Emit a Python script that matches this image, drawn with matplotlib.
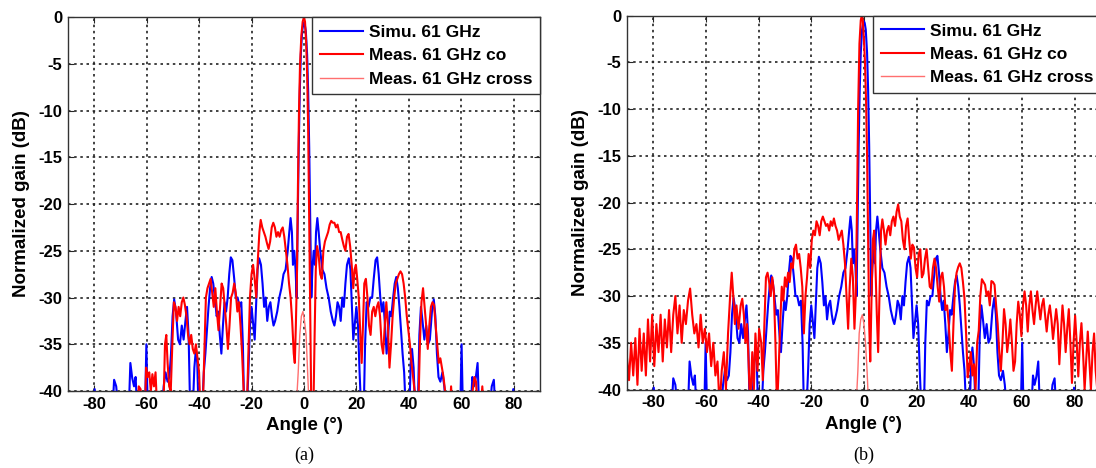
import matplotlib
matplotlib.use("Agg")
import matplotlib.pyplot as plt

plt.rcParams['font.family'] = ['Liberation Sans', 'DejaVu Sans']
plt.rcParams['axes.unicode_minus'] = False

# ===== data =====
# simulation, same curve in both panels
sim_angle = [
    -90, -80.5, -79.8, -79.2, -73, -72.4, -71.6, -70.8, -66.8, -66.2,
    -65.5, -64.8, -64.2, -63.6, -60.6, -60.1, -59.6, -54.2, -53.5, -52.8,
    -52, -51.3, -50.7, -50.1, -49.5, -48.8, -48, -47.3, -46.6, -45.9,
    -45.2, -44.6, -44, -43.4, -42.4, -41.8, -41.2, -40.7, -40.2, -38.8,
    -38.2, -37.6, -37, -36.4, -35.8, -35.2, -34.6, -34, -33.3, -32.7,
    -32.1, -31.5, -30.9, -30.3, -29.7, -29.1, -28.5, -27.9, -27.3, -26.6,
    -26, -25.3, -24.6, -23.9, -23.3, -22.8, -21.8, -21.2, -20.6, -20,
    -19.3, -18.8, -18.3, -17.7, -17.1, -16.4, -15.8, -15.2, -14.6, -14,
    -13.4, -12.8, -12.2, -11.6, -11, -10.2, -9.4, -8.6, -7.8, -7,
    -6.2, -5.6, -5.1, -4.6, -4.2, -3.7, -3.2, -2.8, -2.4, -2.0,
    -1.6, -1.2, -0.7, -0.3, 0,
    0.3, 0.7, 1.2, 1.6, 2.0, 2.4, 2.8, 3.2, 3.7, 4.2,
    4.6, 5.1, 5.6, 6.2, 7, 7.8, 8.6, 9.4, 10.2, 11,
    11.6, 12.2, 12.8, 13.4, 14, 14.6, 15.2, 15.8, 16.4, 17.1,
    17.7, 18.3, 18.8, 19.3, 20, 20.6, 21.2, 21.8, 22.8, 23.3,
    23.9, 24.6, 25.3, 26, 26.6, 27.3, 27.9, 28.5, 29.1, 29.7,
    30.3, 30.9, 31.5, 32.1, 32.7, 33.3, 34, 34.6, 35.2, 35.8,
    36.4, 37, 37.6, 38.2, 38.8, 40.2, 40.7, 41.2, 41.8, 42.4,
    43.4, 44, 44.6, 45.2, 45.9, 46.6, 47.3, 48, 48.8, 49.5,
    50.1, 50.7, 51.3, 52, 52.8, 53.5, 54.2, 59.6, 60.1, 60.6,
    63.6, 64.2, 64.8, 65.5, 66.2, 66.8, 70.8, 71.6, 72.4, 73,
    79.2, 79.8, 80.5, 90,
]
sim_gain = [
    -42, -42, -39.8, -42, -42, -38.8, -39.5, -42, -42, -37,
    -38.6, -39.5, -38.5, -42, -42, -35, -42, -42, -39.5, -38,
    -39, -38.5, -36, -32, -30.2, -31.5, -34.5, -35, -33, -34.5,
    -32.5, -31, -34, -42, -42, -37.5, -35.5, -37, -42, -42,
    -38, -36, -33.5, -31, -29, -27.8, -28.5, -30, -32, -31.5,
    -34, -36, -33, -30.5, -31.5, -30, -27.5, -25.7, -26, -28,
    -30, -30, -31, -30.5, -35, -42, -42, -38, -33, -31,
    -33, -34.5, -31, -27, -25.8, -26.5, -28.5, -31, -30, -32.5,
    -31, -30.5, -32, -33, -32.5, -31.5, -30, -29, -27.5, -27,
    -25, -23, -21.5, -23, -26.5, -25, -27, -30, -22, -14,
    -8, -4, -1.5, -0.8, -0.6,
    -0.8, -1.5, -4, -8, -14, -22, -30, -27, -25, -26.5,
    -23, -21.5, -23, -25, -27, -27.5, -29, -30, -31.5, -32.5,
    -33, -32, -30.5, -31, -32.5, -30, -31, -28.5, -26.5, -25.8,
    -27, -31, -34.5, -33, -31, -33, -38, -42, -42, -35,
    -30.5, -31, -30, -30, -28, -26, -25.7, -27.5, -30, -31.5,
    -30.5, -33, -36, -34, -31.5, -32, -30, -28.5, -27.8, -29,
    -31, -33.5, -36, -38, -42, -42, -37, -35.5, -37.5, -42,
    -42, -34, -31, -32.5, -34.5, -33, -35, -34.5, -31.5, -30.2,
    -32, -36, -38.5, -39, -38, -39.5, -42, -42, -35, -42,
    -42, -38.5, -39.5, -38.6, -37, -42, -42, -39.5, -38.8, -42,
    -42, -39.8, -42, -42,
]

# (a) measured co-polar
co_a_angle = [
    -90, -63.5, -63, -62.3, -61.8, -60.6, -60.2, -59.6, -59, -58.4,
    -57.8, -57.2, -56.6, -56, -53.6, -53, -52.5, -52, -51.4, -50.8,
    -50.2, -49.6, -49, -48.4, -47.8, -47.2, -46.6, -46, -45.4, -44.8,
    -44.2, -43.6, -43, -42.4, -41.8, -41.2, -40.6, -40, -39.5, -38.6,
    -38, -37.4, -36.8, -36.2, -35.6, -35, -34.4, -33.8, -33.2, -32.6,
    -32, -31.4, -30.8, -30.2, -29.6, -29, -28.4, -27.8, -27.2, -26.6,
    -26, -25.4, -24.8, -24.2, -23.6, -23, -22.4, -21.8, -21.2, -20.6,
    -20, -19.4, -18.8, -18.2, -17.6, -17, -16.5, -15.9, -15.3, -14.7,
    -14.1, -13.5, -12.9, -12.3, -11.7, -11.1, -10.5, -9.9, -9.3, -8.7,
    -8.1, -7.5, -6.9, -6.3, -5.7, -5.1, -4.5, -3.9, -3.5, -3.1,
    -2.7, -2.3, -1.9, -1.5, -1, -0.5, 0, 0.4, 0.8, 1.2,
    1.6, 2.0, 2.4, 2.8, 3.6, 4, 4.5, 5, 5.6, 6.2,
    6.8, 7.4, 8, 8.6, 9.2, 9.8, 10.4, 11, 11.6, 12.2,
    12.8, 13.4, 14, 14.6, 15.2, 15.8, 16.4, 17, 17.6, 18.2,
    18.8, 19.3, 19.8, 20.3, 20.9, 21.5, 22, 22.5, 23, 23.6,
    24.2, 24.8, 25.4, 26, 26.6, 27.2, 27.8, 28.4, 29, 29.6,
    30.2, 30.8, 31.4, 32, 32.6, 33.2, 33.8, 34.4, 35, 35.6,
    36.2, 36.8, 37.4, 38, 38.6, 39.2, 39.8, 40.4, 41, 41.6,
    42.2, 42.8, 43.6, 44.2, 44.8, 45.4, 46, 46.6, 47.2, 47.8,
    48.4, 49, 49.6, 50.2, 50.8, 51.4, 52, 52.6, 53.2, 53.8,
    54.4, 55.6, 56.1, 56.6, 63.6, 64.3, 65, 65.6, 66.2, 67.4,
    68, 68.6, 90,
]
co_a_gain = [
    -42, -42, -39.5, -39.8, -42, -42, -37.5, -38.5, -38, -40,
    -38.2, -39.5, -38, -42, -42, -35, -34, -37, -39.5, -40,
    -35, -30.5, -31, -32.5, -31, -32, -30.5, -30, -30.8, -32,
    -34, -35, -34, -35.5, -36, -35, -36.5, -38, -42, -42,
    -36, -30, -29, -28.5, -28, -29.5, -31, -29, -31.5, -33.5,
    -31, -28.5, -29, -31, -33, -35.5, -33, -30, -29.5, -28.5,
    -29.5, -31.5, -30.5, -33, -36, -40, -42, -42, -36, -30,
    -27.5, -26.5, -28, -30, -26, -23, -21.7, -22.5, -23, -23.5,
    -24.2, -24.8, -24, -22.5, -22, -22.5, -23.5, -23, -23.5, -22.8,
    -22.5, -23.5, -25, -26.5, -28.5, -30, -32.5, -36, -37, -33,
    -28, -18, -10, -5, -2, -0.5, 0, -0.5, -2.5, -6,
    -12, -22, -33, -42, -42, -35, -27, -24.5, -25.5, -27.5,
    -28, -25, -24, -23.5, -23, -22.2, -21.8, -22, -22, -22.5,
    -22.2, -23, -23, -23.8, -24.5, -25, -23.5, -23.2, -24.5, -26.5,
    -29, -27, -26.5, -28, -30, -34, -37, -33, -28.5, -28,
    -30, -33, -34, -31.5, -31, -32, -31, -30.5, -32, -35,
    -36, -33, -30.5, -33, -37.5, -35, -32, -30, -28.5, -28,
    -27.5, -27.2, -27.5, -28.5, -30, -32, -33.5, -35, -37, -38.5,
    -40, -42, -42, -35, -30.5, -29, -31, -33, -35.5, -33,
    -31, -30.5, -30.8, -33, -35, -37, -36.5, -37.5, -38.5, -40,
    -42, -42, -39.5, -42, -42, -40, -38.5, -39, -42, -42,
    -39.5, -42, -42,
]

# (a) measured cross-polar
cross_a_angle = [-3, -2.2, -1.6, -1, -0.4, 0.2, 0.8, 1.4, 2]
cross_a_gain = [-42, -38, -34, -32, -31.5, -32.5, -34, -38, -42]

# (b) measured co-polar
co_b_angle = [
    -90, -89.2, -88.4, -87.6, -86.8, -86, -85.2, -84.4, -83.6, -82.8,
    -82, -81.2, -80.4, -79.6, -78.8, -78, -77.2, -76.4, -75.6, -74.8,
    -74, -73.2, -72.4, -71.6, -70.8, -70, -69.2, -68.4, -67.6, -66.8,
    -66, -65.2, -64.4, -63.6, -62.8, -62, -61.2, -60.4, -59.6, -58.8,
    -58, -57.2, -56.4, -55.6, -54.8, -54, -53.2, -52.4, -51.6, -50.8,
    -50.2, -49.6, -49, -48.4, -47.6, -46.8, -46.2, -45.6, -45, -44.4,
    -43.8, -43.2, -42.4, -41.8, -41.2, -40.4, -39.8, -39, -38.4, -37.8,
    -37.2, -36.6, -36, -35.4, -34.8, -34.2, -33.6, -33, -32.4, -31.8,
    -31.2, -30.6, -30, -29.4, -28.8, -28.2, -27.6, -27, -26.4, -25.8,
    -25.2, -24.6, -24, -23.4, -22.8, -22.2, -21.6, -21, -20.4, -19.8,
    -19.2, -18.6, -18, -17.4, -16.8, -16.2, -15.6, -15, -14.4, -13.8,
    -13.2, -12.6, -12, -11.4, -10.8, -10.2, -9.6, -9, -8.4, -7.8,
    -7.2, -6.6, -6, -5.4, -4.8, -4.2, -3.6, -3.1, -2.6, -2.2,
    -1.7, -1.2, -0.8, -0.4, 0, 0.4, 0.8, 1.2, 1.6, 2,
    2.4, 2.9, 3.4, 3.9, 4.4, 4.9, 5.4, 5.9, 6.5, 7,
    7.6, 8.2, 8.8, 9.4, 10, 10.6, 11.2, 11.8, 12.4, 13,
    13.6, 14.2, 14.8, 15.4, 16, 16.6, 17.2, 17.8, 18.4, 19,
    19.6, 20.2, 20.8, 21.4, 22, 22.6, 23.2, 23.8, 24.4, 25,
    25.6, 26.2, 26.8, 27.4, 28, 28.6, 29.2, 29.8, 30.4, 31,
    31.6, 32.2, 32.8, 33.4, 34, 34.6, 35.2, 35.8, 36.4, 37,
    37.6, 38.2, 38.8, 39.4, 40, 40.6, 41.2, 41.8, 42.4, 43,
    43.6, 44.2, 44.8, 45.4, 46, 46.6, 47.2, 47.8, 48.4, 49,
    49.6, 50.2, 50.8, 51.4, 52, 52.6, 53.2, 53.8, 54.4, 55,
    55.6, 56.2, 56.8, 57.4, 58, 58.6, 59.2, 59.8, 60.4, 61,
    61.6, 62.2, 62.8, 63.4, 64, 64.6, 65.2, 65.8, 66.4, 67,
    67.6, 68.2, 68.8, 69.4, 70, 70.6, 71.2, 71.8, 72.4, 73,
    73.6, 74.2, 74.8, 75.4, 76, 76.6, 77.2, 77.8, 78.4, 79,
    79.6, 80.2, 80.8, 81.4, 82, 82.6, 83.2, 83.8, 84.4, 85,
    85.6, 86.2, 86.8, 87.4, 88, 88.6, 89.2, 90,
]
co_b_gain = [
    -36.5, -39, -35, -38.5, -34.5, -39.5, -33.5, -38, -34, -38.5,
    -32.5, -37, -32, -37.5, -33, -36, -32, -37, -32.5, -35.5,
    -31.5, -36, -32, -30, -34, -31, -35, -31.5, -33, -30.5,
    -29.2, -32, -34, -33, -35.5, -32, -35, -33.5, -36, -34,
    -37.5, -35, -38.5, -37, -42, -38, -36, -40, -34, -30,
    -27.5, -30, -33, -31, -33.5, -31, -30.3, -32, -35, -33,
    -37, -42, -36, -40, -34, -38, -33.5, -35, -39, -33,
    -28, -27.5, -28.5, -30, -28, -29.5, -35, -42, -38, -33,
    -29, -30.5, -28, -29, -27.5, -28.5, -26.5, -27, -25, -24.5,
    -26, -25.5, -27, -29, -34, -30, -28, -25.5, -27, -24,
    -23, -23.5, -22, -22.5, -23.5, -22, -21.5, -22, -22.5, -22.3,
    -23, -22, -22.5, -21.7, -22.5, -23, -24, -23.5, -23, -24.5,
    -26.5, -30, -33.5, -29, -26, -28, -33.5, -30, -20, -10,
    -3, -0.5, 0, -0.6, -2.5, -5, -9, -15, -24, -33,
    -37, -30, -24, -23, -27, -32, -36, -30, -23, -21.8,
    -23, -24.5, -23, -22.5, -23.5, -22, -21.5, -22.5, -21, -20.2,
    -21.5, -22, -24, -25, -22.5, -21.7, -24, -26, -24.5, -24.8,
    -27, -28, -25.5, -25, -28, -27.6, -26, -25, -27, -29,
    -29.2, -27, -26, -27, -29, -30.6, -28, -27.5, -29, -31.5,
    -31, -33, -36, -38, -33, -28.8, -27.5, -26.9, -26.5, -27,
    -28.5, -30.3, -34, -38.7, -37.5, -36, -38.5, -37.3, -40, -35,
    -33.7, -30, -28.2, -28.5, -28.8, -30, -29.5, -31, -28.4, -28.5,
    -28.8, -31, -33, -36, -38, -35, -31.4, -33, -36, -34.5,
    -32.5, -35, -38, -37, -33, -30.6, -32, -34.3, -31, -29.5,
    -31, -33.8, -31, -29.5, -31.5, -33, -31, -29.5, -31, -32.5,
    -31, -30.3, -32, -33.8, -32, -31, -32.5, -34.6, -33, -31.4,
    -33, -37.3, -34, -31, -33, -36, -33.5, -31.4, -35, -39.3,
    -35, -32.1, -35, -38.6, -35, -32.9, -36, -40, -37, -33.8,
    -37, -40, -36, -34, -38, -40, -36, -38,
]

# (b) measured cross-polar
cross_b_angle = [-3, -2.3, -1.8, -1.2, -0.6, 0, 0.6, 1.2, 1.8]
cross_b_gain = [-42, -38, -34, -32.5, -32, -33, -35, -38, -42]

x_ticks = [-80, -60, -40, -20, 0, 20, 40, 60, 80]
y_ticks = [-40, -35, -30, -25, -20, -15, -10, -5, 0]
labels = ['Simu. 61 GHz', 'Meas. 61 GHz co', 'Meas. 61 GHz cross']

# ===== figure =====
fig = plt.figure(figsize=(10.96, 4.68), dpi=100)
ax_a = fig.add_axes([0.062, 0.1645, 0.4307, 0.799])
ax_b = fig.add_axes([0.572, 0.1677, 0.4325, 0.799])


def draw_panel(ax, co_angle, co_gain, cross_angle, cross_gain, tag):
    ax.plot(sim_angle, sim_gain, color='#0000ff', lw=1.5, label=labels[0])
    ax.plot(co_angle, co_gain, color='#ff0000', lw=1.5, label=labels[1])
    ax.plot(cross_angle, cross_gain, color='#ff6f6f', lw=1.0, label=labels[2])

    ax.set_xlim(-90, 90)
    ax.set_ylim(-40, 0)
    ax.set_xticks(x_ticks)
    ax.set_yticks(y_ticks)
    ax.grid(True, color='#222222', linestyle=(0, (1.5, 2.2)), lw=1.2)
    ax.tick_params(direction='in', length=4, width=0.8, top=True, right=True,
                   labelsize=12, pad=4, colors='#262626')
    for t in ax.get_xticklabels() + ax.get_yticklabels():
        t.set_fontweight('bold')
        t.set_color('black')
    for s in ax.spines.values():
        s.set_color('#333333')
        s.set_linewidth(1.0)

    ax.set_xlabel('Angle (°)', fontsize=13.5, fontweight='bold', labelpad=4)
    ax.set_ylabel('Normalized gain (dB)', fontsize=13.5, fontweight='bold', labelpad=6)

    leg = ax.legend(loc='upper right', borderaxespad=0, fancybox=False,
                    edgecolor='#333333', framealpha=1,
                    prop={'weight': 'bold', 'size': 12.5},
                    handlelength=2.5, handletextpad=0.3, labelspacing=0.47,
                    borderpad=0.45)
    leg.get_frame().set_linewidth(1.0)

    ax.annotate(tag, xy=(0, 13 / 468), xycoords=('data', 'figure fraction'),
                ha='center', va='center', fontsize=13,
                family=['Liberation Serif', 'DejaVu Serif'])


draw_panel(ax_a, co_a_angle, co_a_gain, cross_a_angle, cross_a_gain, '(a)')
draw_panel(ax_b, co_b_angle, co_b_gain, cross_b_angle, cross_b_gain, '(b)')

fig.savefig('out.png', dpi=100)
